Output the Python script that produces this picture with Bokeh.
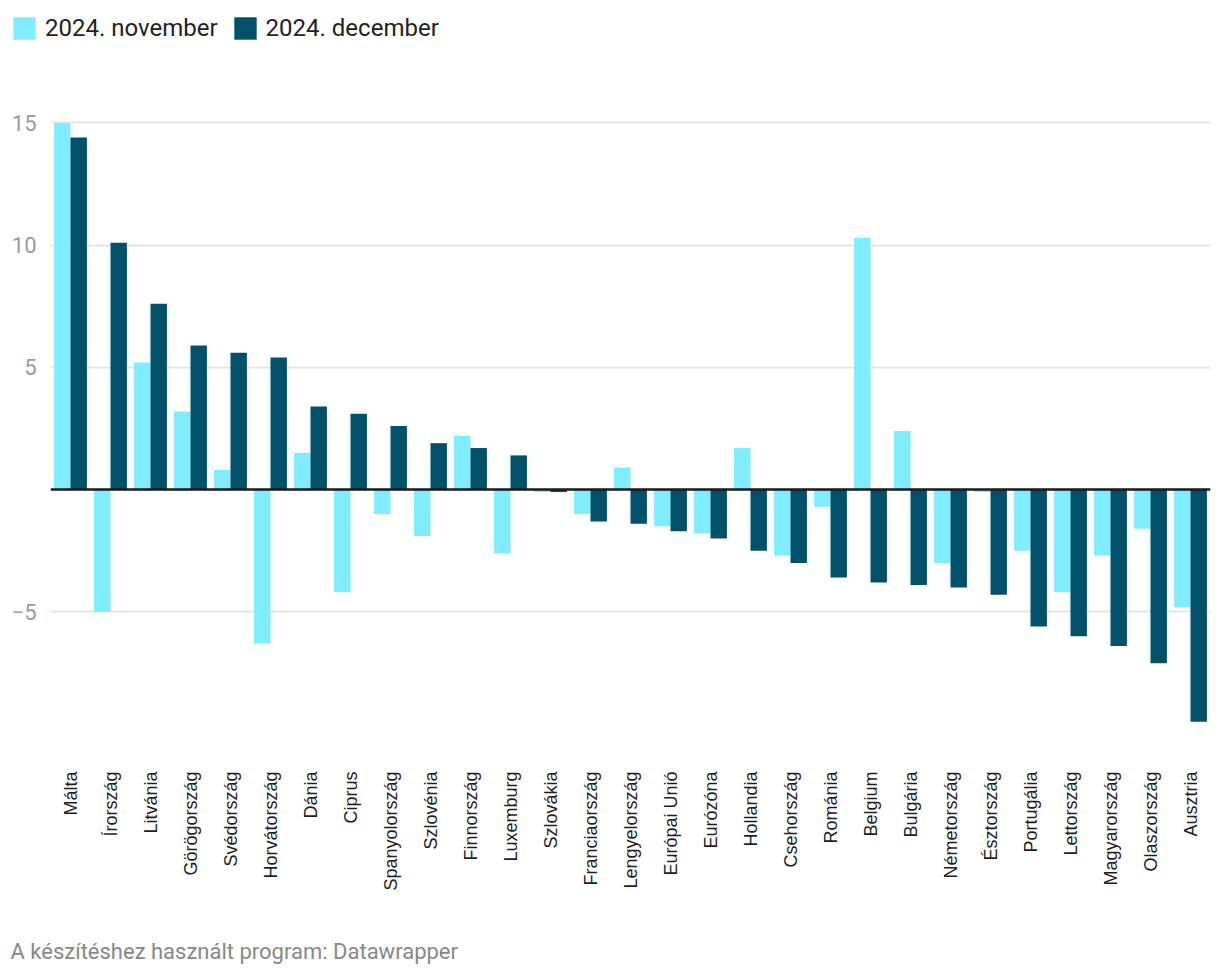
import math
from bokeh.plotting import figure
from bokeh.layouts import column
from bokeh.models import (ColumnDataSource, FactorRange, Range1d, FixedTicker, Span, Legend,
                          LegendItem, Label)
from bokeh.transform import dodge
from bokeh.embed import file_html
from bokeh.resources import INLINE

countries = ["Málta", "Írország", "Litvánia", "Görögország", "Svédország", "Horvátország",
             "Dánia", "Ciprus", "Spanyolország", "Szlovénia", "Finnország", "Luxemburg",
             "Szlovákia", "Franciaország", "Lengyelország", "Európai Unió", "Eurózóna",
             "Hollandia", "Csehország", "Románia", "Belgium", "Bulgária", "Németország",
             "Észtország", "Portugália", "Lettország", "Magyarország", "Olaszország", "Ausztria"]
nov_2024 = [15.0, -5.0, 5.2, 3.2, 0.8, -6.3, 1.5, -4.2, -1.0, -1.9, 2.2, -2.6, -0.1, -1.0,
            0.9, -1.5, -1.8, 1.7, -2.7, -0.7, 10.3, 2.4, -3.0, -0.1, -2.5, -4.2, -2.7, -1.6, -4.8]
dec_2024 = [14.4, 10.1, 7.6, 5.9, 5.6, 5.4, 3.4, 3.1, 2.6, 1.9, 1.7, 1.4, -0.1, -1.3,
            -1.4, -1.7, -2.0, -2.5, -3.0, -3.6, -3.8, -3.9, -4.0, -4.3, -5.6, -6.0, -6.4, -7.1, -9.5]
series_labels = ["2024. november", "2024. december"]
y_ticks = [-5, 5, 10, 15]
footer_text = "A készítéshez használt program: Datawrapper"

NOV_COLOR = "#80ecff"
DEC_COLOR = "#02516b"
W = 1212

src = ColumnDataSource(dict(country=countries, nov=nov_2024, dec=dec_2024))

# ---- legend strip (bars of the same data, kept outside its visible range) ----
leg = figure(width=W, height=50, output_backend="svg", toolbar_location=None,
             x_range=FactorRange(factors=countries), y_range=Range1d(100, 101),
             x_axis_type=None, y_axis_type=None, frame_align=False,
             min_border_left=0, min_border_right=0, min_border_top=0, min_border_bottom=0)
leg.grid.visible = False
leg.outline_line_color = None
lr1 = leg.vbar(x="country", top="nov", width=0.4, source=src, fill_color=NOV_COLOR, line_color=None)
lr2 = leg.vbar(x="country", top="dec", width=0.4, source=src, fill_color=DEC_COLOR, line_color=None)
legend = Legend(items=[LegendItem(label=series_labels[0], renderers=[lr1]),
                       LegendItem(label=series_labels[1], renderers=[lr2])],
                location=(10, 8), orientation="horizontal",
                glyph_width=28, glyph_height=28, label_height=28, label_standoff=7,
                spacing=13, padding=0, margin=0,
                label_text_font="Roboto", label_text_font_size="24px", label_text_color="#222222",
                border_line_color=None, background_fill_alpha=0)
leg.add_layout(legend, "center")

# ---- main chart ----
p = figure(x_range=FactorRange(factors=countries), y_range=Range1d(-11, 16),
           width=W, height=858, output_backend="svg", toolbar_location=None,
           min_border_left=50, min_border_right=2, min_border_top=48, min_border_bottom=150)
p.outline_line_color = None

p.vbar(x=dodge("country", -0.205, range=p.x_range), top="nov", width=0.41,
       source=src, fill_color=NOV_COLOR, line_color=None)
p.vbar(x=dodge("country", 0.205, range=p.x_range), top="dec", width=0.41,
       source=src, fill_color=DEC_COLOR, line_color=None)

p.add_layout(Span(location=0, dimension="width", line_color="#1a1a1a", line_width=2.5))

p.xgrid.visible = False
p.ygrid.ticker = FixedTicker(ticks=y_ticks)
p.ygrid.grid_line_color = "#e5e5e5"
p.ygrid.grid_line_width = 2

p.yaxis.ticker = FixedTicker(ticks=y_ticks)
p.yaxis.major_label_overrides = {-5: "\u22125"}
p.yaxis.axis_line_color = None
p.yaxis.major_tick_line_color = None
p.yaxis.minor_tick_line_color = None
p.yaxis.major_tick_out = 0
p.yaxis.major_label_standoff = 14
p.yaxis.major_label_text_font = "Roboto"
p.yaxis.major_label_text_font_size = "22px"
p.yaxis.major_label_text_color = "#9a9a9a"

p.xaxis.axis_line_color = None
p.xaxis.major_tick_line_color = None
p.xaxis.minor_tick_line_color = None
p.xaxis.major_tick_out = 0
p.xaxis.major_label_standoff = 13
p.xaxis.major_label_orientation = math.pi / 2
p.xaxis.major_label_text_font = "Liberation Sans"
p.xaxis.major_label_text_font_size = "18px"
p.xaxis.major_label_text_color = "#1e1e1e"

# ---- footer strip ----
foot = figure(width=W, height=64, output_backend="svg", toolbar_location=None,
              x_range=Range1d(0, 1), y_range=Range1d(0, 1),
              x_axis_type=None, y_axis_type=None, frame_align=False,
              min_border_left=0, min_border_right=0, min_border_top=0, min_border_bottom=0)
foot.grid.visible = False
foot.outline_line_color = None
foot.add_layout(Label(x=10, y=21, x_units="screen", y_units="screen", text=footer_text,
                      text_baseline="middle", text_font="Roboto", text_font_size="22px",
                      text_color="#888888"))

layout = column(leg, p, foot, spacing=0)
open("out.html", "w").write(file_html(layout, INLINE))
